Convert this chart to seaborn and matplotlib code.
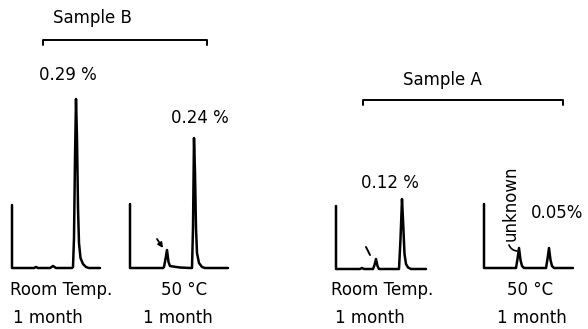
import matplotlib
matplotlib.use("Agg")
import matplotlib.pyplot as plt
import seaborn as sns
import pandas as pd
from matplotlib.lines import Line2D

# ---------------- data (time from start mark, detector signal) ----------------
b_rt_time = [0, 0, 22, 24, 26, 38, 41, 44, 60, 61, 62, 63, 64, 65, 66, 67, 68.5, 71, 74, 77, 88]
b_rt_sig  = [63, 0, 0, 1, 0, 0, 2, 0, 0, 1, 30, 110, 169, 130, 60, 25, 10, 4, 1, 0, 0]

b_50_time = [0, 0, 33, 34, 35.5, 37, 38.5, 40, 43, 50, 60, 62, 63, 64, 65, 66, 67, 69, 72, 75, 98]
b_50_sig  = [64, 0, 0, 1, 9, 18, 6, 2, 1.5, 0.5, 0, 0, 40, 130, 95, 40, 15, 5, 1, 0, 0]

a_rt_time = [0, 0, 24, 26, 28, 37, 38.5, 40, 41.5, 43, 63, 64.5, 66, 67.2, 68.5, 70, 72, 75, 90]
a_rt_sig  = [63, 0, 0, 1, 0, 0, 4, 10, 3, 0, 0, 30, 70, 45, 15, 5, 1.5, 0, 0]

a_50_time = [0, 0, 32, 33.5, 35, 36.5, 38, 40, 62, 63.5, 65, 66.5, 68, 70, 89]
a_50_sig  = [64, 0, 0, 9, 20, 8, 2, 0, 0, 9, 20, 8, 2, 0, 0]

peak_labels = ["0.29 %", "0.24 %", "0.12 %", "0.05%"]
conditions = ["Room Temp.", "50 °C", "Room Temp.", "50 °C"]
durations = ["1 month", "1 month", "1 month", "1 month"]
samples = ["Sample B", "Sample A"]

# ---------------- layout (pixel positions of each chromatogram) ----------------
W, H = 588, 329
sns.set_theme(style="white")
plt.rcParams["font.family"] = ["DejaVu Sans"]
fig = plt.figure(figsize=(W / 100, H / 100), dpi=100)
fig.patch.set_facecolor("white")

panels = [
    (b_rt_time, b_rt_sig, 12, 268),
    (b_50_time, b_50_sig, 130, 268),
    (a_rt_time, a_rt_sig, 336, 269),
    (a_50_time, a_50_sig, 484, 268),
]

axes = []
for t, s, x0, base in panels:
    tmin, tmax = -3, max(t) + 3
    smin, smax = -3, 175
    rect = [(x0 + tmin) / W, 1 - (base - smin) / H, (tmax - tmin) / W, (smax - smin) / H]
    ax = fig.add_axes(rect)
    df = pd.DataFrame({"time": t, "signal": s})
    sns.lineplot(data=df, x="time", y="signal", sort=False, estimator=None,
                 color="black", linewidth=1.8, ax=ax)
    ax.set_xlim(tmin, tmax)
    ax.set_ylim(smin, smax)
    ax.set_axis_off()
    ax.patch.set_alpha(0)
    axes.append(ax)

def fx(px):
    return px / W

def fy(py):
    return 1 - py / H

fs = 12
txt = dict(ha="center", va="center", fontsize=fs, color="black")

# peak percentage labels
label_pos = [(68, 75), (200, 118), (390, 183), (557, 213)]
for lab, (px, py) in zip(peak_labels, label_pos):
    fig.text(fx(px), fy(py), lab, **txt)

# condition / duration labels
cond_pos = [(61, 290), (184, 290), (382, 290), (530, 290)]
dur_pos = [(48, 318), (178, 318), (370, 318), (532, 318)]
for lab, (px, py) in zip(conditions, cond_pos):
    fig.text(fx(px), fy(py), lab, **txt)
for lab, (px, py) in zip(durations, dur_pos):
    fig.text(fx(px), fy(py), lab, **txt)

# sample titles and brackets
fig.text(fx(92), fy(18), samples[0], **txt)
fig.text(fx(442), fy(80), samples[1], **txt)
for xl, xr, yb in [(43, 207, 40), (363, 563, 100)]:
    fig.add_artist(Line2D([fx(xl), fx(xl), fx(xr), fx(xr)],
                          [fy(yb + 5), fy(yb), fy(yb), fy(yb + 5)],
                          color="black", linewidth=1.4))

# arrows pointing at the unknown peak
axes[1].annotate("", xy=(33, 20), xytext=(27, 29),
                 arrowprops=dict(arrowstyle="-|>", color="black", lw=1.3,
                                 mutation_scale=7, shrinkA=0, shrinkB=0))
axes[2].annotate("", xy=(34, 14), xytext=(30, 22),
                 arrowprops=dict(arrowstyle="-", color="black", lw=1.4,
                                 shrinkA=0, shrinkB=0))

# "unknown" label
fig.text(fx(511), fy(203), "unknown", rotation=90, ha="center", va="center",
         fontsize=fs, color="black")
axes[3].annotate("", xy=(33, 17), xytext=(25, 23),
                 arrowprops=dict(arrowstyle="-", color="black", lw=1.2,
                                 connectionstyle="arc3,rad=0.3",
                                 shrinkA=0, shrinkB=0))

fig.savefig("out.png", dpi=100, facecolor="white")
